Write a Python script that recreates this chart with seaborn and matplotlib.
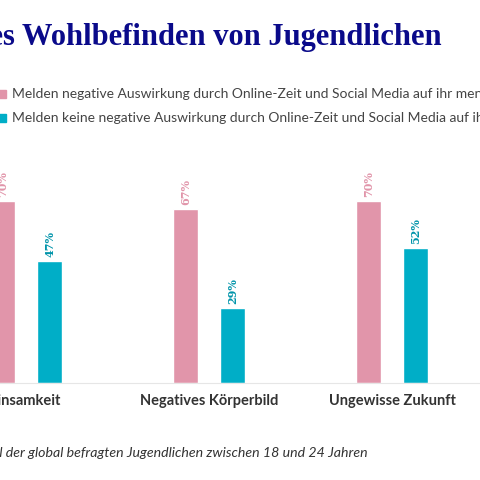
import matplotlib
matplotlib.use('Agg')
import matplotlib.pyplot as plt
import seaborn as sns
import pandas as pd
import numpy as np

categories = ['Einsamkeit', 'Negatives Körperbild', 'Ungewisse Zukunft']
negative = [70, 67, 70]
keine = [47, 29, 52]
series = ['Melden negative Auswirkung durch Online-Zeit und Social Media auf ihr mentales Wohlbefinden',
          'Melden keine negative Auswirkung durch Online-Zeit und Social Media auf ihr mentales Wohlbefinden']

pink = '#e195aa'
teal = '#00aec7'
navy = '#0a0a8a'

sns.set_style('white')
plt.rcParams['font.family'] = ['Lato', 'DejaVu Sans']

df = pd.DataFrame({'Kategorie': categories * 2,
                   'Wert': negative + keine,
                   'Serie': [series[0]] * 3 + [series[1]] * 3})

fig = plt.figure(figsize=(4.8, 4.8), dpi=100)
ax = fig.add_axes([0, 0.202, 1, 0.542])
x = np.arange(len(categories))
w = 0.137
off = 0.13
ax.bar(x - off, negative, width=w, color=pink)
ax.bar(x + off, keine, width=w, color=teal)
for xi, v in zip(x - off, negative):
    ax.text(xi, v + 1.5, f'{v}%', rotation=90, ha='center', va='bottom', color=pink,
            fontsize=8, family='DejaVu Serif', fontweight='bold')
for xi, v in zip(x + off, keine):
    ax.text(xi, v + 1.5, f'{v}%', rotation=90, ha='center', va='bottom', color='#0094aa',
            fontsize=8, family='DejaVu Serif', fontweight='bold')
ax.set_xlim(-0.142, 2.48)
ax.set_ylim(0, 100)
ax.set_xticks(x)
ax.set_xticklabels(categories, fontsize=10.5, fontweight='bold', color='#333333')
ax.tick_params(axis='x', length=0, pad=8)
ax.set_yticks([])
for s in ['top', 'left', 'right']:
    ax.spines[s].set_visible(False)
ax.spines['bottom'].set_color('#e6e6e6')

fig.text(442 / 480, 1 - 38 / 480, 'Social Media und das psychisches Wohlbefinden von Jugendlichen',
         ha='right', va='center', fontsize=22, fontweight='bold', color=navy, family='Liberation Serif')
for i, (lab, c) in enumerate(zip(series, [pink, teal])):
    y = 1 - (94 + 24 * i) / 480
    fig.patches.append(plt.Rectangle((-2 / 480, y - 4 / 480), 8 / 480, 8 / 480,
                                     transform=fig.transFigure, color=c))
    fig.text(12 / 480, y, lab, ha='left', va='center', fontsize=10, color='#444444')
fig.text(368 / 480, 1 - 453 / 480, 'Anteil der global befragten Jugendlichen zwischen 18 und 24 Jahren',
         ha='right', va='center', fontsize=10.2, style='italic', color='#333333')

fig.savefig('out.png', dpi=100)
